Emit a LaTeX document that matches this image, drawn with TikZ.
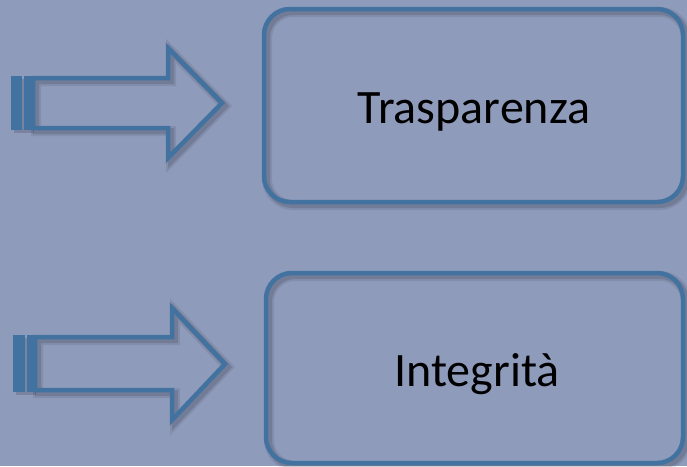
\documentclass[tikz,border=0pt]{standalone}
\usepackage{fontspec}
\setmainfont{Carlito}
\definecolor{bgc}{RGB}{143,155,187}
\definecolor{edgec}{RGB}{66,114,160}
\tikzset{
  x=1pt, y=-1pt,
  shapeline/.style={draw=edgec, line width=4.5pt, line join=miter},
  boxline/.style={draw=edgec, line width=4.5pt, rounded corners=26pt},
  shadowA/.style={draw=black, opacity=0.08, line width=10pt},
  shadowB/.style={draw=black, opacity=0.12, line width=6pt},
  label/.style={font=\fontsize{48}{54}\selectfont, text=black, inner sep=0pt},
  stripe/.style={fill=edgec, draw=none}
}
\begin{document}
\begin{tikzpicture}
\fill[bgc] (0,0) rectangle (687,466);
\useasboundingbox (0,0) rectangle (687,466);

% ---------- arrow 1 ----------
\coordinate (a1s) at (33,78);
\begin{scope}[shift={(3,3)}]
  \draw[shadowA, line join=miter] (33,78) -- (168,78) -- (168,48) -- (222,103) -- (168,158) -- (168,128) -- (33,128) -- cycle;
  \draw[shadowB, line join=miter] (33,78) -- (168,78) -- (168,48) -- (222,103) -- (168,158) -- (168,128) -- (33,128) -- cycle;
  \fill[black, opacity=0.15] (11,76) rectangle (31,130);
\end{scope}
\draw[shapeline] (a1s) -- (168,78) -- (168,48) -- (222,103) -- (168,158) -- (168,128) -- (33,128) -- cycle;
\fill[stripe] (11,76) rectangle (22,130);
\fill[stripe] (24,76) rectangle (31,130);

% ---------- arrow 2 ----------
\coordinate (a2s) at (35,337);
\begin{scope}[shift={(3,3)}]
  \draw[shadowA, line join=miter] (35,337) -- (172,337) -- (172,308) -- (225,364) -- (172,420) -- (172,390) -- (35,390) -- cycle;
  \draw[shadowB, line join=miter] (35,337) -- (172,337) -- (172,308) -- (225,364) -- (172,420) -- (172,390) -- (35,390) -- cycle;
  \fill[black, opacity=0.15] (13,335) rectangle (33,392);
\end{scope}
\draw[shapeline] (a2s) -- (172,337) -- (172,308) -- (225,364) -- (172,420) -- (172,390) -- (35,390) -- cycle;
\fill[stripe] (13,335) rectangle (25,392);
\fill[stripe] (27,335) rectangle (33,392);

% ---------- box 1 ----------
\begin{scope}[shift={(3,3)}]
  \draw[shadowA, rounded corners=26pt] (264,9) rectangle (683,202);
  \draw[shadowB, rounded corners=26pt] (264,9) rectangle (683,202);
\end{scope}
\draw[boxline] (264,9) rectangle (683,202);
\node[label] (t1) at (474,112) {Trasparenza};

% ---------- box 2 ----------
\begin{scope}[shift={(3,3)}]
  \draw[shadowA, rounded corners=26pt] (266,273) rectangle (683,463);
  \draw[shadowB, rounded corners=26pt] (266,273) rectangle (683,463);
\end{scope}
\draw[boxline] (266,273) rectangle (683,463);
\node[label] (t2) at (477,374) {Integrità};
\end{tikzpicture}
\end{document}
